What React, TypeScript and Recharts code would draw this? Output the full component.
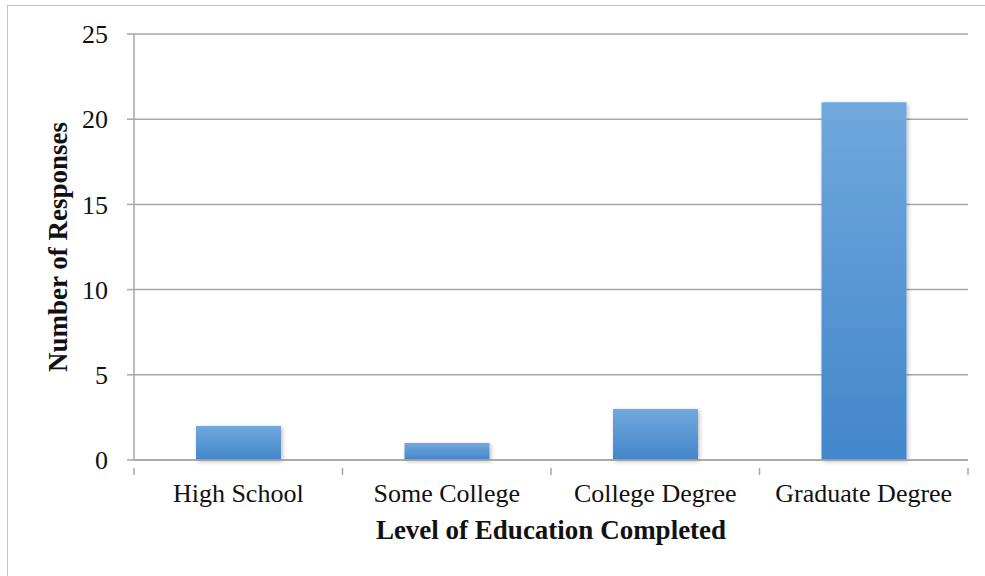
import { BarChart, Bar, XAxis, YAxis, CartesianGrid, Label } from "recharts";

const categories = ["High School", "Some College", "College Degree", "Graduate Degree"];
const responses = [2, 1, 3, 21];
const yTicks = [0, 5, 10, 15, 20, 25];

const data = categories.map((name, i) => ({ name, value: responses[i] }));

const W = 985;
const H = 576;
const margin = { top: 34, right: 17, bottom: 56, left: 64 };
const yAxisWidth = 70;
const plotWidth = W - margin.left - margin.right - yAxisWidth;
const font = "'Liberation Serif', 'Times New Roman', serif";
const axisGray = "#a6a6a6";

const XTick = (props: any) => {
    const { x, y, payload, index } = props;
    const band = plotWidth / categories.length;
    return (
        <g>
            <line x1={x - band / 2} x2={x - band / 2} y1={y} y2={y + 7} stroke={axisGray} strokeWidth={1.5} />
            {index === categories.length - 1 && (
                <line x1={x + band / 2} x2={x + band / 2} y1={y} y2={y + 7} stroke={axisGray} strokeWidth={1.5} />
            )}
            <text x={x} y={y + 34} textAnchor="middle" fontSize={26} fill="#111" fontFamily={font}>
                {payload.value}
            </text>
        </g>
    );
};

export default function App() {
    return (
        <div style={{ position: "absolute", left: 0, top: 0, width: W, height: H, background: "#fff" }}>
            <div
                style={{
                    position: "absolute",
                    left: 7,
                    top: 5,
                    width: W,
                    height: H,
                    borderLeft: "1.5px solid #c4c4c4",
                    borderTop: "1.5px solid #c4c4c4",
                }}
            />
            <BarChart
                width={W}
                height={H}
                data={data}
                margin={margin}
                style={{ position: "absolute", left: 0, top: 0, fontFamily: font }}
            >
                <defs>
                    <linearGradient id="barFill" x1="0" y1="0" x2="0" y2="1">
                        <stop offset="0%" stopColor="#71a8dd" />
                        <stop offset="100%" stopColor="#4286cb" />
                    </linearGradient>
                    <filter id="barShadow" x="-10%" y="-10%" width="130%" height="130%">
                        <feDropShadow dx="1.5" dy="1.5" stdDeviation="2" floodColor="#000" floodOpacity="0.25" />
                    </filter>
                </defs>
                <CartesianGrid vertical={false} stroke={axisGray} strokeWidth={1.5} />
                <XAxis
                    dataKey="name"
                    stroke={axisGray}
                    strokeWidth={1.5}
                    tickLine={false}
                    tick={<XTick />}
                    height={60}
                    interval={0}
                >
                    <Label
                        value="Level of Education Completed"
                        position="insideBottom"
                        offset={-19}
                        style={{ fontSize: 27, fontWeight: "bold", fill: "#111", fontFamily: font }}
                    />
                </XAxis>
                <YAxis
                    width={yAxisWidth}
                    domain={[0, 25]}
                    ticks={yTicks}
                    interval={0}
                    stroke={axisGray}
                    strokeWidth={1.5}
                    tickSize={7}
                    tickMargin={19}
                    tick={{ fontSize: 26, fill: "#111", fontFamily: font }}
                >
                    <Label
                        value="Number of Responses"
                        angle={-90}
                        position="insideLeft"
                        offset={-7}
                        style={{ textAnchor: "middle", fontSize: 27, fontWeight: "bold", fill: "#111", fontFamily: font }}
                    />
                </YAxis>
                <Bar
                    dataKey="value"
                    fill="url(#barFill)"
                    barSize={85}
                    filter="url(#barShadow)"
                    isAnimationActive={false}
                />
            </BarChart>
        </div>
    );
}
